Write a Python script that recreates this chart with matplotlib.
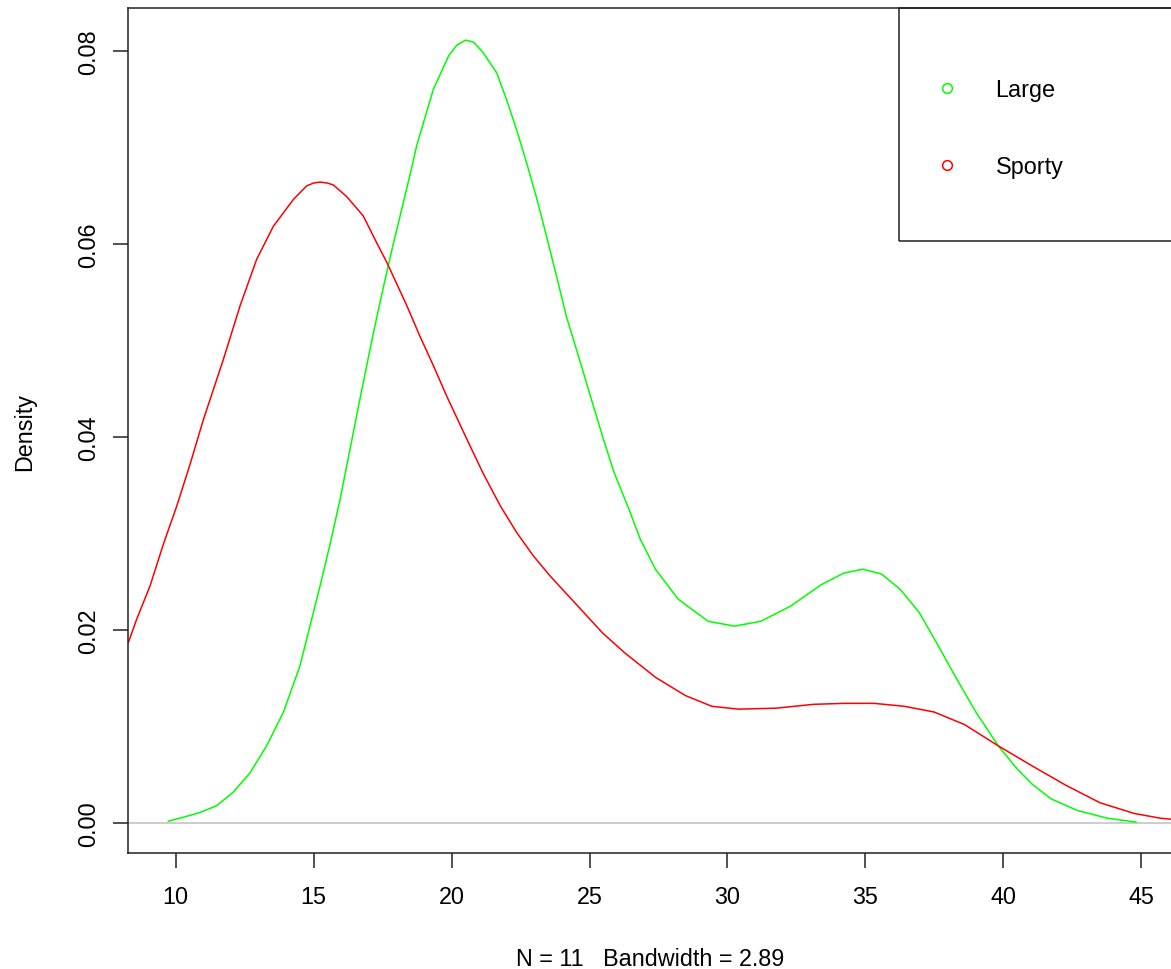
import matplotlib
matplotlib.use("Agg")
import matplotlib.pyplot as plt
from matplotlib.lines import Line2D
from matplotlib.patches import Rectangle

plt.rcParams['font.family'] = ['Liberation Sans', 'DejaVu Sans']

# density estimates
large_x = [9.74, 10.28, 10.89, 11.49, 12.09, 12.7, 13.3, 13.91, 14.51, 14.87,
           15.24, 15.6, 15.96, 16.32, 16.68, 17.17, 17.53, 17.89, 18.13, 18.5,
           18.74, 19.34, 19.9, 20.2, 20.51, 20.8, 21.15, 21.64, 22.0, 22.36, 22.72, 23.09,
           23.45, 23.81, 24.17, 24.66, 25.14, 25.5, 25.88, 26.43, 26.84, 27.39,
           28.21, 29.3, 30.25, 31.21, 32.3, 33.4, 34.22, 34.9, 35.58, 36.26,
           36.95, 37.63, 38.31, 39.0, 39.81, 40.5, 41.05, 41.73, 42.68, 43.77, 44.8]
large_y = [0.0002, 0.0006, 0.0011, 0.0018, 0.0032, 0.0052, 0.0080, 0.0115, 0.0163, 0.0204,
           0.0246, 0.0289, 0.0335, 0.0387, 0.0439, 0.0508, 0.0555, 0.0600, 0.0628, 0.0672,
           0.0702, 0.0760, 0.0795, 0.0806, 0.0811, 0.0809, 0.0798, 0.0777, 0.0749, 0.0718, 0.0684, 0.0647,
           0.0607, 0.0566, 0.0524, 0.0478, 0.0432, 0.0398, 0.0364, 0.0325, 0.0294, 0.0263,
           0.0232, 0.0209, 0.0204, 0.0209, 0.0225, 0.0247, 0.0259, 0.0263, 0.0258, 0.0242,
           0.0218, 0.0184, 0.0149, 0.0115, 0.0080, 0.0056, 0.0040, 0.0025, 0.0013, 0.0005, 0.0001]

sporty_x = [8.29, 8.59, 9.08, 9.56, 10.04, 10.53, 11.01, 11.73, 12.34, 12.94,
            13.54, 14.27, 14.75, 15.0, 15.24, 15.5, 15.72, 16.2, 16.8, 17.29, 17.67, 18.38,
            18.86, 19.34, 19.83, 20.55, 21.15, 21.76, 22.36, 22.96, 23.57, 24.41,
            25.47, 26.29, 27.39, 28.48, 29.43, 30.39, 31.76, 33.12, 34.22, 35.31,
            36.4, 37.49, 38.59, 39.81, 41.05, 42.27, 43.5, 44.73, 45.69, 46.07]
sporty_y = [0.0187, 0.0211, 0.0246, 0.0289, 0.0328, 0.0372, 0.0418, 0.0480, 0.0536, 0.0584,
            0.0618, 0.0646, 0.0660, 0.0663, 0.0664, 0.0663, 0.0661, 0.0649, 0.0629, 0.0601, 0.0580, 0.0536,
            0.0504, 0.0474, 0.0442, 0.0398, 0.0362, 0.0329, 0.0301, 0.0277, 0.0256, 0.0230,
            0.0197, 0.0176, 0.0151, 0.0132, 0.0121, 0.0118, 0.0119, 0.0123, 0.0124, 0.0124,
            0.0121, 0.0115, 0.0102, 0.0080, 0.0059, 0.0039, 0.0021, 0.0010, 0.0005, 0.0004]

labels = ['Large', 'Sporty']
colors = ['#00ff00', '#ff0000']
xticks = [10, 15, 20, 25, 30, 35, 40, 45]
yticks = [0.00, 0.02, 0.04, 0.06, 0.08]

fs = 16.8
fig = plt.figure(figsize=(11.71, 9.70), dpi=100)
ax = fig.add_axes([0.1096, 0.1196, 0.8904, 0.8708])

ax.axhline(0, color='#bebebe', lw=1.1, zorder=1)
ax.plot(large_x, large_y, color=colors[0], lw=1.1)
ax.plot(sporty_x, sporty_y, color=colors[1], lw=1.1)

ax.set_xlim(8.29, 46.07)
ax.set_ylim(-0.0031, 0.0844)
ax.spines['right'].set_visible(False)
for s in ['left', 'bottom', 'top']:
    ax.spines[s].set_linewidth(1.1)
    ax.spines[s].set_color('#222222')

ax.set_xticks(xticks)
ax.set_xticklabels([str(t) for t in xticks], fontsize=fs)
ax.set_yticks(yticks)
ax.set_yticklabels(['%.2f' % t for t in yticks], fontsize=fs, rotation=90, va='center')
ax.tick_params(axis='both', length=11, width=1.1, color='#222222', pad=12)
ax.tick_params(axis='y', pad=9)

ax.set_xlabel('N = 11   Bandwidth = 2.89', fontsize=fs, labelpad=28)
ax.set_ylabel('Density', fontsize=fs, labelpad=30)

# legend box running off the right edge
ax.add_patch(Rectangle((0.7391, 0.7249), 0.4, 0.2751, transform=ax.transAxes,
                       fill=False, lw=1.1, edgecolor='#222222', clip_on=False, zorder=3))
handles = [Line2D([], [], ls='none', marker='o', mfc='none', mec=c, ms=7, mew=1.1)
           for c in colors]
ax.legend(handles, labels, loc='upper left', bbox_to_anchor=(924 / 1171, 1 - 67 / 970),
          bbox_transform=fig.transFigure, frameon=False, fontsize=fs, borderpad=0,
          handlelength=1.0, handletextpad=1.56, labelspacing=2.33)

fig.savefig('out.png', dpi=100)
